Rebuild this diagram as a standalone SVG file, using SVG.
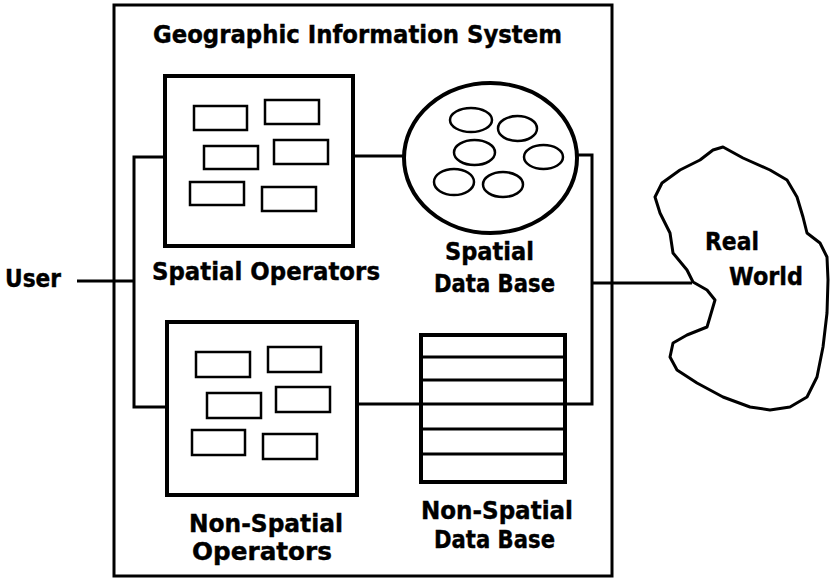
<svg xmlns="http://www.w3.org/2000/svg" width="831" height="579" viewBox="0 0 831 579">
  <style>
    .lbl { font-family: "DejaVu Sans", "Liberation Sans", sans-serif; font-weight: bold; font-size: 24px; fill: #000; stroke: #000; stroke-width: 0.4; }
    .frame { fill: none; stroke: #000; stroke-width: 3; }
    .wire { fill: none; stroke: #000; stroke-width: 3; }
    .box { fill: #fff; stroke: #000; stroke-width: 4; }
    .cell { fill: none; stroke: #000; stroke-width: 2.5; }
    .blob { fill: #fff; stroke: #000; stroke-width: 3; stroke-linejoin: round; }
    .rec { fill: none; stroke: #000; stroke-width: 3; }
  </style>
  <rect width="831" height="579" fill="#fff"/>

  <!-- system boundary -->
  <g id="gis">
    <rect class="frame" x="114" y="5" width="498" height="571"/>
    <text class="lbl" x="153" y="43" textLength="409" lengthAdjust="spacingAndGlyphs">Geographic Information System</text>
  </g>

  <!-- connectors -->
  <g id="connectors">
    <path class="wire" d="M77 281 H134"/>
    <path class="wire" d="M165 157 H134 V407 H167"/>
    <path class="wire" d="M353 156 H404"/>
    <path class="wire" d="M577 155 H592 V404 H357"/>
    <path class="wire" d="M592 283 H692"/>
  </g>

  <g id="user">
    <text class="lbl" x="5" y="287" textLength="56" lengthAdjust="spacingAndGlyphs">User</text>
  </g>

  <g id="spatial-operators">
    <rect class="box" x="165" y="76" width="188" height="170"/>
    <rect class="cell" x="194" y="106" width="53" height="24"/>
    <rect class="cell" x="265" y="100" width="54" height="24"/>
    <rect class="cell" x="204" y="146" width="54" height="23"/>
    <rect class="cell" x="274" y="140" width="54" height="24"/>
    <rect class="cell" x="190" y="182" width="54" height="23"/>
    <rect class="cell" x="262" y="187" width="54" height="24"/>
    <text class="lbl" x="152" y="280" textLength="228" lengthAdjust="spacingAndGlyphs">Spatial Operators</text>
  </g>

  <g id="spatial-database">
    <ellipse class="box" cx="490.5" cy="158" rx="86.5" ry="75" stroke-width="3.5"/>
    <ellipse class="cell" cx="471" cy="120" rx="21" ry="12"/>
    <ellipse class="cell" cx="517.5" cy="128.5" rx="19.5" ry="12.5"/>
    <ellipse class="cell" cx="474.5" cy="152.5" rx="20.5" ry="12.5"/>
    <ellipse class="cell" cx="543.5" cy="157" rx="19.5" ry="12"/>
    <ellipse class="cell" cx="454" cy="182" rx="20" ry="13"/>
    <ellipse class="cell" cx="503" cy="184.5" rx="20" ry="12.5"/>
    <text class="lbl" x="445" y="260" textLength="89" lengthAdjust="spacingAndGlyphs">Spatial</text>
    <text class="lbl" x="434" y="292" textLength="121" lengthAdjust="spacingAndGlyphs">Data Base</text>
  </g>

  <g id="non-spatial-operators">
    <rect class="box" x="167" y="322" width="190" height="173"/>
    <rect class="cell" x="196" y="352" width="54" height="25"/>
    <rect class="cell" x="268" y="347" width="53" height="25"/>
    <rect class="cell" x="207" y="393" width="54" height="25"/>
    <rect class="cell" x="276" y="387" width="54" height="25"/>
    <rect class="cell" x="192" y="430" width="53" height="25"/>
    <rect class="cell" x="263" y="434" width="54" height="25"/>
    <text class="lbl" x="189" y="532" textLength="154" lengthAdjust="spacingAndGlyphs">Non-Spatial</text>
    <text class="lbl" x="192" y="560" textLength="140" lengthAdjust="spacingAndGlyphs">Operators</text>
  </g>

  <g id="non-spatial-database">
    <rect class="box" x="421" y="335" width="144" height="147" stroke-width="3.5"/>
    <path class="rec" d="M421 357 H565 M421 380 H565 M421 404 H565 M421 429 H565 M421 454 H565"/>
    <text class="lbl" x="421" y="519" textLength="152" lengthAdjust="spacingAndGlyphs">Non-Spatial</text>
    <text class="lbl" x="434" y="548" textLength="121" lengthAdjust="spacingAndGlyphs">Data Base</text>
  </g>

  <g id="real-world">
    <path class="blob" d="M723 147 L743 158 L770 170 L787 180 L797 197 L803 217 L807 233 L820 243 L827 257 L828 280 L827 313 L823 347 L817 377 L807 397 L790 407 L770 410 L750 407 L723 397 L697 383 L677 370 L670 357 L673 343 L687 335 L707 327 L710 317 L715 300 L707 290 L693 282 L687 270 L673 253 L670 233 L660 213 L655 197 L662 183 L680 170 L700 160 L713 150 Z"/>
    <text class="lbl" x="705" y="250" textLength="54" lengthAdjust="spacingAndGlyphs">Real</text>
    <text class="lbl" x="729" y="285" textLength="74" lengthAdjust="spacingAndGlyphs">World</text>
  </g>
</svg>
